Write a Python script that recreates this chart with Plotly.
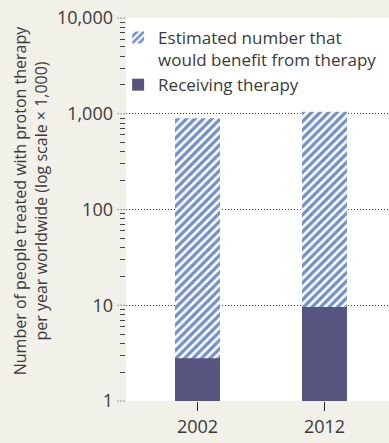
import math
import plotly.graph_objects as go

years = ["2002", "2012"]
estimated = [900, 1050]
receiving = [2.8, 9.6]
series_names = ["Estimated number that<br>would benefit from therapy", "Receiving therapy"]
major_ticks = [1, 10, 100, 1000, 10000]
major_labels = ["1", "10", "100", "1,000", "10,000"]
y_title = "Number of people treated with proton therapy<br>per year worldwide (log scale \u00d7 1,000)"

TEXT = "#3a3a3a"
BG = "#f1f0e9"
FONT = "Open Sans"
DOT = "1px,2px"

fig = go.Figure()
fig.add_trace(go.Bar(
    x=years, y=estimated, name=series_names[0], width=0.354,
    marker=dict(color="white", line=dict(width=0),
                pattern=dict(shape="/", fgcolor="#7490c9", bgcolor="white", fgopacity=1,
                             size=6, solidity=0.55, fillmode="replace")),
))
fig.add_trace(go.Bar(
    x=years, y=receiving, name=series_names[1], width=0.354,
    marker=dict(color="#56557f", line=dict(width=0)),
))

shapes = []
for v in major_ticks:
    py = math.log10(v) / 4.0
    shapes.append(dict(type="line", xref="paper", yref="paper", x0=-0.032, x1=0,
                       y0=py, y1=py, line=dict(color="#444", width=1, dash=DOT)))

fig.update_layout(
    width=389, height=443,
    margin=dict(l=126, r=0, t=18, b=42),
    paper_bgcolor=BG, plot_bgcolor="white",
    barmode="overlay",
    font=dict(family=FONT, size=17, color=TEXT),
    showlegend=True,
    legend=dict(x=-0.03, y=0.995, xanchor="left", yanchor="top", valign="top",
                bgcolor="rgba(0,0,0,0)", font=dict(size=17, color=TEXT),
                tracegroupgap=0, itemwidth=30),
    shapes=shapes,
    annotations=[dict(text=y_title, xref="paper", yref="paper", x=-0.36, y=0.525,
                      xanchor="center", yanchor="middle", textangle=-90, showarrow=False,
                      font=dict(size=16, color=TEXT, family=FONT))],
    xaxis=dict(type="category", range=[-0.563, 1.508], showgrid=False,
               ticks="outside", ticklen=9, tickcolor="#222", tickwidth=1,
               showline=False, zeroline=False, tickfont=dict(size=18, color=TEXT)),
    yaxis=dict(type="log", range=[0, 4], tickvals=major_ticks, ticktext=major_labels,
               showgrid=True, gridcolor="#444", griddash=DOT, gridwidth=1,
               ticks="", ticklabelstandoff=12, showline=False, zeroline=False,
               tickfont=dict(size=18, color=TEXT),
               minor=dict(ticks="outside", ticklen=5, tickcolor="#444", tickwidth=1,
                          tickvals=[k * 10 ** d for d in range(4) for k in range(2, 10)],
                          showgrid=False)),
)

fig.write_html("out.html")
